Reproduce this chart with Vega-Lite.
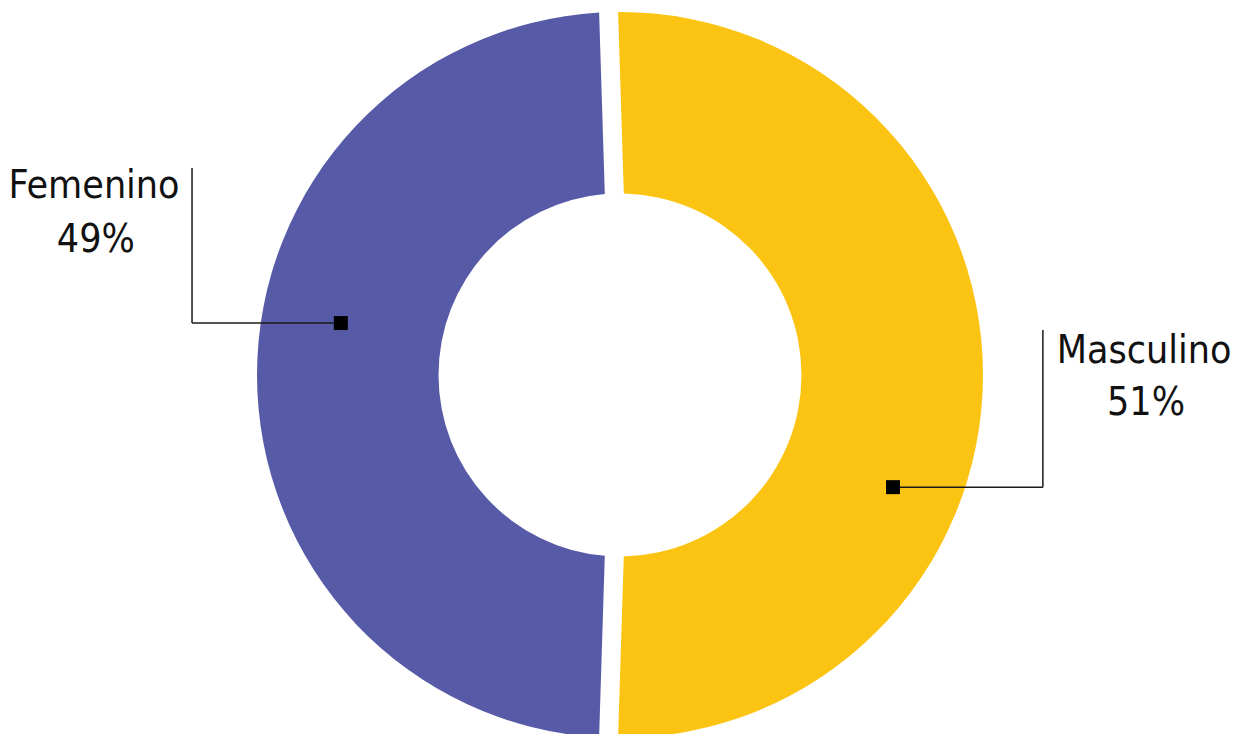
{
  "$schema": "https://vega.github.io/schema/vega-lite/v6.json",
  "width": 1236,
  "height": 734,
  "autosize": {"type": "none"},
  "padding": 0,
  "background": "#ffffff",
  "config": {"view": {"stroke": null}},
  "datasets": {
    "slices": [
      {"sexo": "Masculino", "pct": 51, "orden": 1, "cx": 0, "cy": 0},
      {"sexo": "Femenino", "pct": 49, "orden": 2, "cx": 0, "cy": 0}
    ],
    "leaders": [
      {"sexo": "Femenino", "x": -0.769, "y": 0.143, "x2": -1.179, "y2": 0.143},
      {"sexo": "Femenino", "x": -1.179, "y": 0.143, "x2": -1.179, "y2": 0.57},
      {"sexo": "Masculino", "x": 0.752, "y": -0.309, "x2": 1.165, "y2": -0.309},
      {"sexo": "Masculino", "x": 1.165, "y": -0.309, "x2": 1.165, "y2": 0.124}
    ],
    "markers": [
      {"sexo": "Femenino", "x": -0.769, "y": 0.143},
      {"sexo": "Masculino", "x": 0.752, "y": -0.309}
    ],
    "labels": [
      {"texto": "Femenino", "x": -1.449, "y": 0.488},
      {"texto": "49%", "x": -1.444, "y": 0.339},
      {"texto": "Masculino", "x": 1.444, "y": 0.033},
      {"texto": "51%", "x": 1.449, "y": -0.11}
    ]
  },
  "layer": [
    {
      "data": {"name": "slices"},
      "mark": {"type": "arc", "outerRadius": 363, "innerRadius": 181.5, "padAngle": 0.0468},
      "encoding": {
        "x": {"field": "cx", "type": "quantitative", "scale": {"domain": [-1.708, 1.697], "nice": false, "zero": false}, "axis": null},
        "y": {"field": "cy", "type": "quantitative", "scale": {"domain": [-0.989, 1.033], "nice": false, "zero": false}, "axis": null},
        "theta": {"field": "pct", "type": "quantitative", "stack": true, "scale": {"range": [-0.0314, 6.2518]}},
        "order": {"field": "orden", "type": "quantitative"},
        "color": {"field": "sexo", "type": "nominal", "scale": {"domain": ["Masculino", "Femenino"], "range": ["#FCC412", "#575BA7"]}, "legend": null}
      }
    },
    {
      "data": {"name": "leaders"},
      "mark": {"type": "rule", "color": "#1a1a1a", "strokeWidth": 1.5},
      "encoding": {
        "x": {"field": "x", "type": "quantitative", "scale": {"domain": [-1.708, 1.697], "nice": false, "zero": false}, "axis": null},
        "y": {"field": "y", "type": "quantitative", "scale": {"domain": [-0.989, 1.033], "nice": false, "zero": false}, "axis": null},
        "x2": {"field": "x2"},
        "y2": {"field": "y2"}
      }
    },
    {
      "data": {"name": "markers"},
      "mark": {"type": "point", "shape": "square", "filled": true, "color": "#000000", "opacity": 1, "size": 196},
      "encoding": {
        "x": {"field": "x", "type": "quantitative", "scale": {"domain": [-1.708, 1.697], "nice": false, "zero": false}, "axis": null},
        "y": {"field": "y", "type": "quantitative", "scale": {"domain": [-0.989, 1.033], "nice": false, "zero": false}, "axis": null}
      }
    },
    {
      "data": {"name": "labels"},
      "mark": {"type": "text", "align": "center", "baseline": "alphabetic", "font": "DejaVu Sans Condensed, sans-serif", "fontSize": 39, "color": "#111111"},
      "encoding": {
        "x": {"field": "x", "type": "quantitative", "scale": {"domain": [-1.708, 1.697], "nice": false, "zero": false}, "axis": null},
        "y": {"field": "y", "type": "quantitative", "scale": {"domain": [-0.989, 1.033], "nice": false, "zero": false}, "axis": null},
        "text": {"field": "texto", "type": "nominal"}
      }
    }
  ]
}
